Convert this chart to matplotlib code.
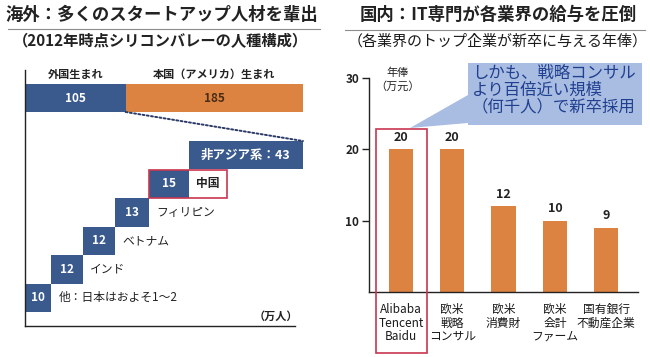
import matplotlib
matplotlib.use("Agg")
import matplotlib.pyplot as plt
from matplotlib.lines import Line2D
from matplotlib.patches import Rectangle, Polygon, ConnectionPatch
import matplotlib.transforms as mtransforms
import numpy as np

plt.rcParams['font.family'] = ['Noto Sans CJK JP', 'DejaVu Sans']

# ---------------- data ----------------
left_title = '海外：多くのスタートアップ人材を輩出'
left_subtitle = '（2012年時点シリコンバレーの人種構成）'
right_title = '国内：IT専門が各業界の給与を圧倒'
right_subtitle = '（各業界のトップ企業が新卒に与える年俸）'

born_labels = ['外国生まれ', '本国（アメリカ）生まれ']
born_values = [105, 185]

origin_labels = ['他：日本はおよそ1～2', 'インド', 'ベトナム', 'フィリピン', '中国', '非アジア系']
origin_values = [10, 12, 12, 13, 15, 43]
left_unit = '（万人）'

salary_categories = ['Alibaba\nTencent\nBaidu', '欧米\n戦略\nコンサル', '欧米\n消費財',
                     '欧米\n会計\nファーム', '国有銀行\n不動産企業']
salary_values = [20, 20, 12, 10, 9]
salary_yticks = [10, 20, 30]
salary_ylabel = '年俸\n（万元）'
callout_text = 'しかも、戦略コンサル\nより百倍近い規模\n（何千人）で新卒採用'

# ---------------- style ----------------
BLUE = '#3A5A8E'
ORANGE = '#DD8341'
RED = '#C8374F'
CALLOUT = '#A9BDE2'
CALLOUT_TXT = '#1F3F8F'

W, H = 650, 357
fig = plt.figure(figsize=(W / 100, H / 100), dpi=100)


def fx(x):
    return x / W


def fy(y):
    return 1 - y / H


def rect(x0, y0, x1, y1):
    return [fx(x0), fy(y1), (x1 - x0) / W, (y1 - y0) / H]


def fline(x0, y0, x1, y1, **kw):
    fig.add_artist(Line2D([fx(x0), fx(x1)], [fy(y0), fy(y1)], transform=fig.transFigure, **kw))


# titles
fig.text(fx(162), fy(15), left_title, ha='center', va='center', fontsize=12.5, weight='bold', color='#222222')
fig.text(fx(160), fy(41), left_subtitle, ha='center', va='center', fontsize=11, weight='bold', color='#222222')
fline(8, 29, 320, 29, color='#8C8C8C', lw=0.8)
fig.text(fx(498), fy(15), right_title, ha='center', va='center', fontsize=12.5, weight='bold', color='#222222')
fig.text(fx(498), fy(41), right_subtitle, ha='center', va='center', fontsize=10.8, color='#1A1A1A')
fline(345, 30, 645, 30, color='#8C8C8C', lw=0.8)

# ---------------- left: top stacked bar ----------------
ax_top = fig.add_axes(rect(25, 84, 303, 112))
lefts_top = np.concatenate([[0], np.cumsum(born_values)[:-1]])
colors_top = [BLUE, ORANGE]
txt_colors = ['white', '#4A2E14']
for lab, v, l, c, tc in zip(born_labels, born_values, lefts_top, colors_top, txt_colors):
    ax_top.barh(0, v, left=l, height=1, color=c, edgecolor='none')
    ax_top.text(l + v / 2, 0, str(v), ha='center', va='center', color=tc, fontsize=8.5, weight='bold')
    ax_top.annotate(lab, (l + v / 2, 0.5), xytext=(0, 2.5), textcoords='offset points',
                    ha='center', va='bottom', fontsize=8, weight='bold', color='#222222',
                    annotation_clip=False)
ax_top.set_xlim(0, sum(born_values))
ax_top.set_ylim(-0.5, 0.5)
ax_top.axis('off')

# ---------------- left: waterfall ----------------
ax_low = fig.add_axes(rect(25, 141, 303, 312))
lefts = np.concatenate([[0], np.cumsum(origin_values)[:-1]])
n = len(origin_values)
for i, (lab, v, l) in enumerate(zip(origin_labels, origin_values, lefts)):
    ax_low.barh(i, v, left=l, height=1, color=BLUE, edgecolor='none')
    if i == n - 1:
        ax_low.text(l + v / 2, i, f'{lab}：{v}', ha='center', va='center', color='white',
                    fontsize=9, weight='bold')
    else:
        ax_low.text(l + v / 2, i, str(v), ha='center', va='center', color='white',
                    fontsize=8.5, weight='bold')
        if i == n - 2:
            box_w = v * 1.95
            ax_low.add_patch(Rectangle((l, i - 0.5), box_w, 1, fill=False, edgecolor=RED,
                                       lw=1.2, clip_on=False, zorder=5))
            ax_low.text(l + v + (box_w - v) / 2, i, lab, ha='center', va='center',
                        fontsize=8.5, weight='bold', color='#222222')
        else:
            ax_low.annotate(lab, (l + v, i), xytext=(5, 0), textcoords='offset points',
                            ha='left', va='center', fontsize=8.5, color='#222222')
ax_low.set_xlim(0, sum(origin_values))
ax_low.set_ylim(-0.5, n - 0.5)
ax_low.axis('off')

# dotted connector from foreign-born segment to top of waterfall
con = ConnectionPatch(xyA=(born_values[0], -0.5), coordsA=ax_top.transData,
                      xyB=(sum(origin_values), n - 0.5), coordsB=ax_low.transData,
                      linestyle=(0, (1, 1.2)), color='#2B3A66', lw=1.4)
fig.add_artist(con)

# left axis lines
fline(25, 70, 25, 326, color='#222222', lw=1)
fline(25, 326, 295, 326, color='#222222', lw=1)
fig.text(fx(276), fy(316), left_unit, ha='center', va='center', fontsize=8, weight='bold', color='#222222')

# ---------------- right: salary bars ----------------
ax_r = fig.add_axes(rect(369, 78, 638, 292))
x = np.arange(len(salary_values))
ax_r.bar(x, salary_values, width=0.47, color=ORANGE, edgecolor='none')
for xi, v in zip(x, salary_values):
    ax_r.annotate(str(v), (xi, v), xytext=(0, 4), textcoords='offset points',
                  ha='center', va='bottom', fontsize=9, weight='bold', color='#222222')
ax_r.set_xlim(-0.62, len(salary_values) - 1 + 0.62)
ax_r.set_ylim(0, 30)
ax_r.set_yticks(salary_yticks)
ax_r.set_yticklabels([str(t) for t in salary_yticks], fontsize=8.5, weight='bold')
ax_r.set_xticks(x)
ax_r.set_xticklabels(salary_categories, fontsize=8.5, linespacing=1.05, color='#1A1A1A')
ax_r.tick_params(axis='x', length=0, pad=8)
ax_r.tick_params(axis='y', length=5, width=1, pad=2, colors='#222222')
for s in ['top', 'right']:
    ax_r.spines[s].set_visible(False)
for s in ['left', 'bottom']:
    ax_r.spines[s].set_linewidth(1)
    ax_r.spines[s].set_color('#222222')

fig.text(fx(398), fy(80), salary_ylabel, ha='center', va='center', fontsize=8, linespacing=1.35, color='#222222')

# red box around first category
blend = mtransforms.blended_transform_factory(ax_r.transData, fig.transFigure)
ax_r.add_patch(Rectangle((x[0] - 0.49, fy(353)), 1.0, fy(129) - fy(353), transform=blend,
                         fill=False, edgecolor=RED, lw=1.2, clip_on=False, zorder=5))

# callout
pts = [(468, 63), (642, 63), (642, 125), (468, 125), (468, 123), (410, 128), (468, 95)]
fig.add_artist(Polygon([(fx(a), fy(b)) for a, b in pts], closed=True, transform=fig.transFigure,
                       facecolor=CALLOUT, edgecolor='none'))
fig.text(fx(472), fy(90), callout_text, ha='left', va='center', fontsize=11.8,
         color=CALLOUT_TXT, linespacing=1.0)

fig.savefig('out.png', dpi=100)
